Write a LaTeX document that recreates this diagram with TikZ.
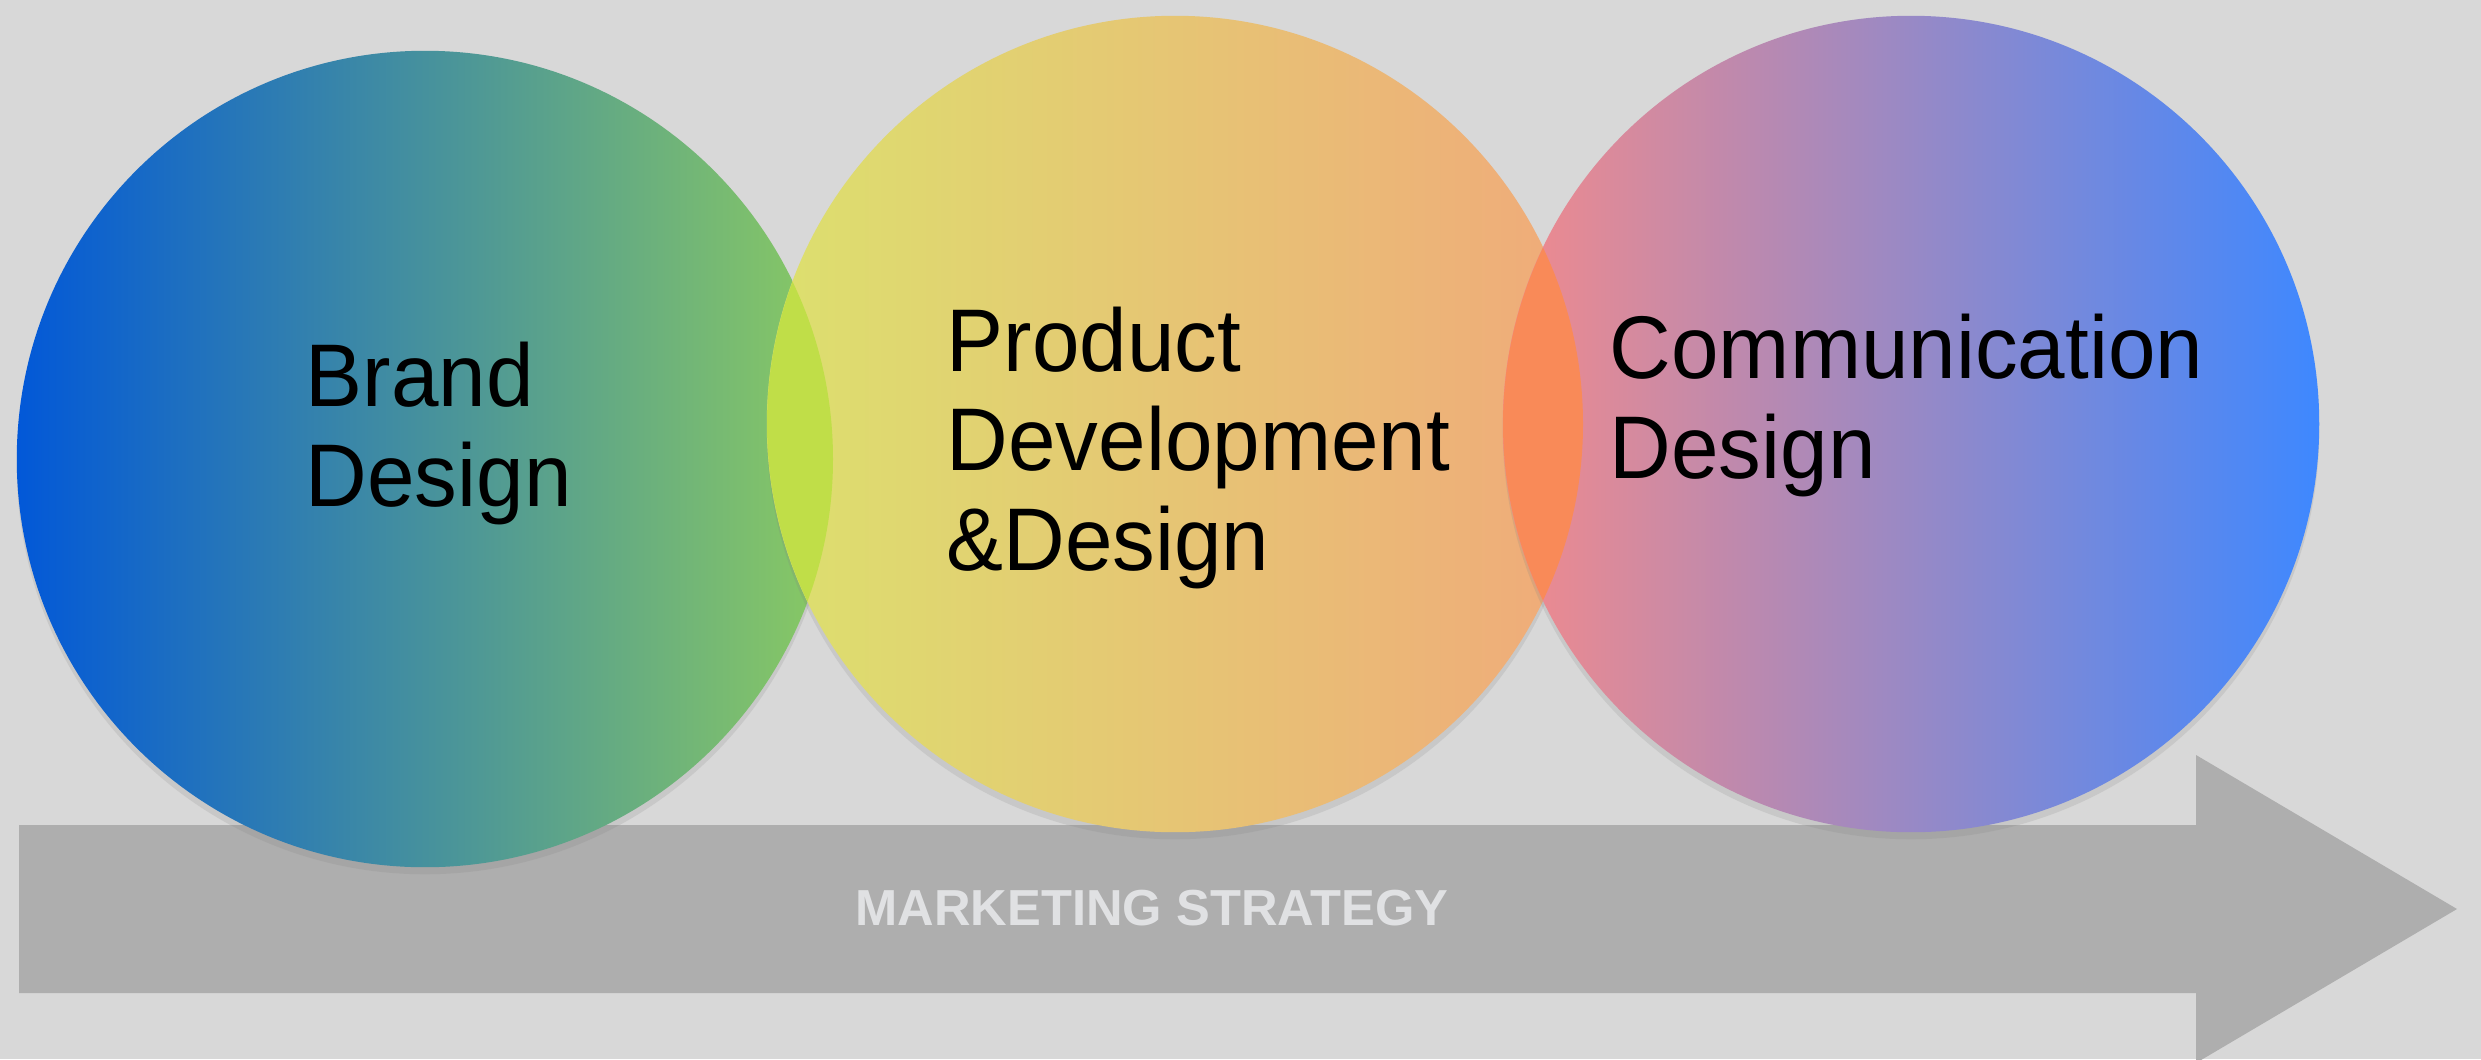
\documentclass[tikz,border=0pt]{standalone}
\usepackage{fontspec}
\setmainfont{Liberation Sans}[FakeStretch=0.96]
\newfontfamily\bannerfont{Liberation Sans}
\usepackage{tikz}
\usetikzlibrary{shapes, arrows.meta, positioning, calc, shadows}

\definecolor{bggray}{RGB}{216, 216, 216}
\definecolor{arrowgray}{RGB}{174, 174, 174}
\definecolor{bannertext}{RGB}{224, 225, 227}
\definecolor{brandL}{RGB}{2, 88, 216}
\definecolor{brandR}{RGB}{138, 202, 98}
\definecolor{productL}{RGB}{220, 224, 110}
\definecolor{productR}{RGB}{240, 170, 122}
\definecolor{commL}{RGB}{242, 138, 140}
\definecolor{commR}{RGB}{62, 136, 255}
\definecolor{lensgreen}{RGB}{192, 222, 72}
\definecolor{lensorange}{RGB}{249, 138, 88}

\tikzset{
  disc/.style={circle, minimum size=8.16cm, inner sep=0pt,
    drop shadow={opacity=0.18, shadow xshift=0pt, shadow yshift=-2pt}},
  discText/.style={anchor=base west, align=left, inner sep=0pt,
    font=\fontsize{25.3}{28.2}\selectfont},
}

\begin{document}
\begin{tikzpicture}[x=0.01cm, y=0.01cm]
  \fill[bggray] (0,0) rectangle (2481,1059);
  \useasboundingbox (0,0) rectangle (2481,1059);

  % strategy arrow
  \fill[arrowgray] (19,66) -- (2196,66) -- (2196,-4) -- (2457,150)
    -- (2196,304) -- (2196,234) -- (19,234) -- cycle;
  \node[font=\bannerfont\bfseries\fontsize{14.4}{17}\selectfont, text=bannertext, anchor=base]
    (strategy) at (1152,134) {MARKETING STRATEGY};

  % the three discs
  \node[disc, left color=brandL, right color=brandR] (brand) at (425,600) {};
  \node[disc, left color=productL, right color=productR] (product) at (1175,635) {};
  \node[disc, left color=commL, right color=commR] (comm) at (1911,635) {};

  % overlaps
  \begin{scope}
    \clip (brand.center) circle (408);
    \fill[lensgreen] (product.center) circle (408);
  \end{scope}
  \begin{scope}
    \clip (product.center) circle (408);
    \fill[lensorange] (comm.center) circle (408);
  \end{scope}

  % texts (placed at the baseline of the last line)
  \node[discText] (brandText) at (305,553) {Brand\\Design};
  \node[discText] (productText) at (946,489) {Product\\Development\\\&Design};
  \node[discText] (commText) at (1609,581) {Communication\\Design};
\end{tikzpicture}
\end{document}
